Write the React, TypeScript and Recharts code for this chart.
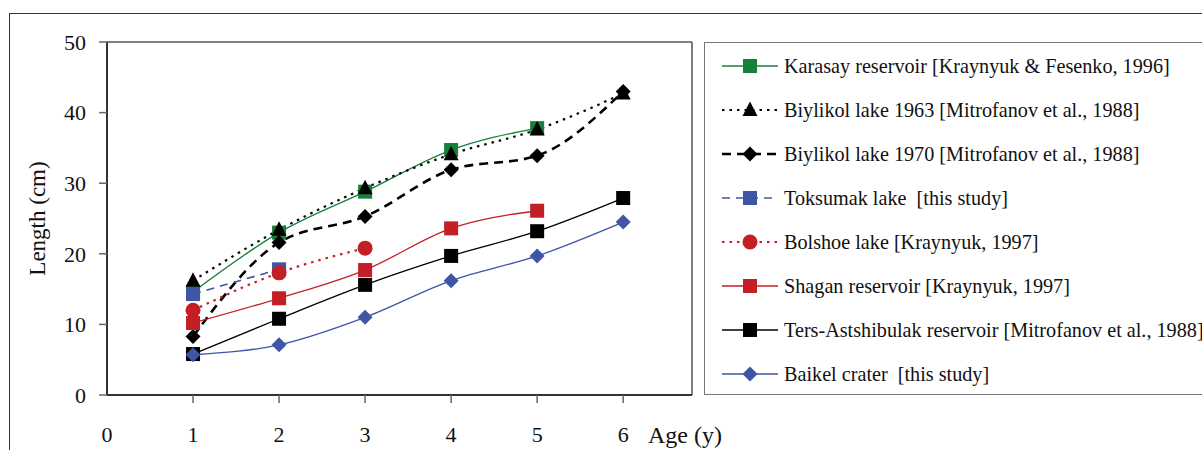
import React from 'react';
import { LineChart, Line, XAxis, YAxis, ReferenceLine, Legend } from 'recharts';

const ages = [1, 2, 3, 4, 5, 6];
const karasay = [14.6, 23.0, 28.8, 34.7, 37.8, null];
const biylikol1963 = [16.2, 23.4, 29.3, 34.1, 37.6, 42.7];
const biylikol1970 = [8.3, 21.6, 25.3, 31.9, 33.9, 43.0];
const toksumak = [14.3, 17.8, null, null, null, null];
const bolshoe = [12.0, 17.3, 20.8, null, null, null];
const shagan = [10.2, 13.7, 17.7, 23.6, 26.1, null];
const tersAstshibulak = [5.8, 10.8, 15.6, 19.7, 23.2, 27.9];
const baikel = [5.7, 7.1, 11.0, 16.2, 19.7, 24.5];

const xTicks = [0, 1, 2, 3, 4, 5, 6];
const yTicks = [0, 10, 20, 30, 40, 50];

const FONT = '"Liberation Serif", "Times New Roman", serif';

type Shape = 'square' | 'triangle' | 'diamond' | 'circle';

interface SeriesDef {
  key: string;
  name: string;
  values: (number | null)[];
  color: string;
  dash?: string;
  width: number;
  shape: Shape;
}

const series: SeriesDef[] = [
  { key: 'karasay', name: 'Karasay reservoir [Kraynyuk & Fesenko, 1996]', values: karasay, color: '#17803c', width: 1.3, shape: 'square' },
  { key: 'b1963', name: 'Biylikol lake 1963 [Mitrofanov et al., 1988]', values: biylikol1963, color: '#000000', dash: '2.5 5', width: 2.2, shape: 'triangle' },
  { key: 'b1970', name: 'Biylikol lake 1970 [Mitrofanov et al., 1988]', values: biylikol1970, color: '#000000', dash: '9 6', width: 2.6, shape: 'diamond' },
  { key: 'toksumak', name: 'Toksumak lake  [this study]', values: toksumak, color: '#3f55a6', dash: '8 6', width: 1.6, shape: 'square' },
  { key: 'bolshoe', name: 'Bolshoe lake [Kraynyuk, 1997]', values: bolshoe, color: '#c41f26', dash: '2.5 5', width: 2.2, shape: 'circle' },
  { key: 'shagan', name: 'Shagan reservoir [Kraynyuk, 1997]', values: shagan, color: '#c41f26', width: 1.3, shape: 'square' },
  { key: 'ters', name: 'Ters-Astshibulak reservoir [Mitrofanov et al., 1988]', values: tersAstshibulak, color: '#000000', width: 1.3, shape: 'square' },
  { key: 'baikel', name: 'Baikel crater  [this study]', values: baikel, color: '#3f55a6', width: 1.3, shape: 'diamond' },
];

const data = ages.map((age, i) => {
  const row: Record<string, number | null> = { age };
  series.forEach((s) => {
    row[s.key] = s.values[i];
  });
  return row;
});

function marker(shape: Shape, color: string, cx: number, cy: number, key?: string) {
  switch (shape) {
    case 'square':
      return <rect key={key} x={cx - 7} y={cy - 7} width={14} height={14} fill={color} />;
    case 'triangle':
      return <polygon key={key} points={`${cx},${cy - 8.5} ${cx + 7.5},${cy + 6} ${cx - 7.5},${cy + 6}`} fill={color} />;
    case 'diamond':
      return <polygon key={key} points={`${cx},${cy - 7.5} ${cx + 7.5},${cy} ${cx},${cy + 7.5} ${cx - 7.5},${cy}`} fill={color} />;
    default:
      return <circle key={key} cx={cx} cy={cy} r={7.5} fill={color} />;
  }
}

const makeDot = (s: SeriesDef) => (props: any) => {
  const { cx, cy, index, value } = props;
  const k = `${s.key}-${index}`;
  if (cx == null || cy == null || value == null) return <g key={k} />;
  return marker(s.shape, s.color, cx, cy, k);
};

const XTick = (props: any) => {
  const { x, y, payload } = props;
  return (
    <g>
      {payload.value > 0 && <line x1={x} x2={x} y1={y - 31} y2={y - 23} stroke="#666" strokeWidth={1.5} />}
      <text x={x} y={y} dy="0.71em" textAnchor="middle" fontSize={22} fontFamily={FONT} fill="#111">
        {payload.value}
      </text>
    </g>
  );
};

const LegendBox = () => (
  <div
    style={{
      width: 520,
      height: 353,
      boxSizing: 'border-box',
      border: '1px solid #777',
      paddingTop: 1,
      fontFamily: FONT,
      fontSize: 20.2,
      color: '#111',
      background: '#fff',
    }}
  >
    {series.map((s) => (
      <div key={s.key} style={{ height: 44, display: 'flex', alignItems: 'center', whiteSpace: 'pre' }}>
        <svg width={80} height={24} style={{ flex: 'none' }}>
          <line x1={17} x2={73} y1={12} y2={12} stroke={s.color} strokeWidth={s.width} strokeDasharray={s.dash} />
          {marker(s.shape, s.color, 45, 12)}
        </svg>
        <span style={{ marginLeft: -1 }}>{s.name}</span>
      </div>
    ))}
  </div>
);

export default function App() {
  return (
    <div style={{ position: 'fixed', left: 0, top: 0, width: 1202, height: 450, overflow: 'hidden', background: '#fff' }}>
      <div
        style={{
          position: 'absolute',
          left: 9,
          top: 13,
          width: 1300,
          height: 600,
          borderTop: '1.5px solid #333',
          borderLeft: '1.5px solid #333',
        }}
      />
      <div style={{ position: 'absolute', left: 0, top: 0 }}>
        <LineChart width={1202} height={450} data={data} margin={{ top: 42, right: 510, bottom: 0, left: 47 }}>
          <XAxis
            dataKey="age"
            type="number"
            domain={[0, 6.8]}
            ticks={xTicks}
            allowDataOverflow
            height={55}
            tickSize={8}
            tickMargin={23}
            tick={<XTick />}
            tickLine={false}
            axisLine={{ stroke: '#333', strokeWidth: 2 }}
            label={{
              value: 'Age (y)',
              position: 'insideBottomRight',
              dx: 35,
              dy: -2,
              fontSize: 24,
              fontFamily: FONT,
              fill: '#111',
            }}
          />
          <YAxis
            type="number"
            domain={[0, 50]}
            ticks={yTicks}
            width={60}
            tickSize={8}
            tickMargin={13}
            tick={{ fontSize: 22, fontFamily: FONT, fill: '#111' }}
            tickLine={{ stroke: '#666', strokeWidth: 1.5 }}
            axisLine={{ stroke: '#333', strokeWidth: 2 }}
            label={{
              value: 'Length (cm)',
              angle: -90,
              position: 'center',
              dx: -40,
              fontSize: 23,
              fontFamily: FONT,
              fill: '#111',
            }}
          />
          <ReferenceLine y={50} stroke="#555" strokeWidth={1.5} ifOverflow="extendDomain" />
          <ReferenceLine x={6.8} stroke="#555" strokeWidth={1.5} ifOverflow="extendDomain" />
          {series.map((s) => (
            <Line
              key={s.key}
              dataKey={s.key}
              name={s.name}
              type="monotone"
              stroke={s.color}
              strokeWidth={s.width}
              strokeDasharray={s.dash}
              dot={makeDot(s)}
              activeDot={false}
              isAnimationActive={false}
            />
          ))}
          <Legend
            layout="vertical"
            align="center"
            verticalAlign="middle"
            wrapperStyle={{ position: 'absolute', left: 704, top: 42, width: 520, height: 353 }}
            content={() => <LegendBox />}
          />
        </LineChart>
      </div>
    </div>
  );
}
